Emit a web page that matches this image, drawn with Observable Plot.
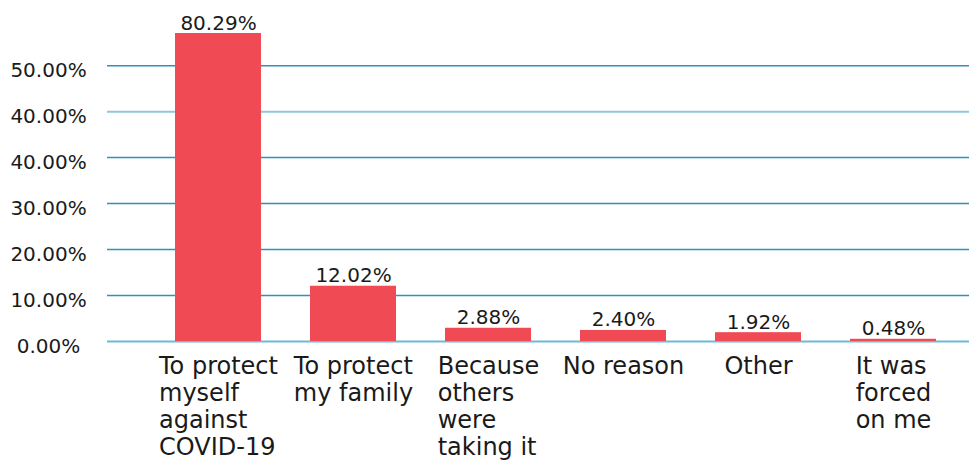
<!DOCTYPE html>
<html><head><meta charset="utf-8">
<script src="https://cdn.jsdelivr.net/npm/d3@7"></script>
<script src="https://cdn.jsdelivr.net/npm/@observablehq/plot@0.6"></script>
<style>body{margin:0;background:#fff}</style>
</head><body><div id="chart"></div>
<script>
const categories = ["To protect\nmyself\nagainst\nCOVID-19", "To protect\nmy family", "Because\nothers\nwere\ntaking it", "No reason", "Other", "It was\nforced\non me"];
const values = [80.29, 12.02, 2.88, 2.40, 1.92, 0.48];
const valueLabels = ["80.29%", "12.02%", "2.88%", "2.40%", "1.92%", "0.48%"];
const tickValues = [0, 10, 20, 30, 40, 50, 60];
const tickLabels = ["0.00%", "10.00%", "20.00%", "30.00%", "40.00%", "40.00%", "50.00%"];

const data = categories.map((c, i) => ({category: c, value: values[i], label: valueLabels[i]}));
const FONT = "'DejaVu Sans', sans-serif";
const ink = "#1a1a1a";

const ctx = document.createElement("canvas").getContext("2d");
ctx.font = "24px 'DejaVu Sans'";
const blockWidth = c => d3.max(c.split("\n"), l => ctx.measureText(l).width);

const categoryMarks = data.map(d => Plot.text([d], {
  x: "category", y: () => 0, text: "category",
  textAnchor: "start", lineAnchor: "top", dx: -blockWidth(d.category) / 2, dy: 13,
  fontSize: 24, lineHeight: 1.125, fill: ink
}));

const chart = Plot.plot({
  width: 969, height: 465,
  marginLeft: 107, marginRight: 0, marginTop: 33, marginBottom: 124,
  style: {fontFamily: FONT, fontSize: "20px", color: ink, background: "#fff"},
  x: {type: "band", domain: categories, range: [150, 962], paddingInner: 0.36, paddingOuter: 0.18, axis: null},
  y: {domain: [0, 67], clamp: true, axis: null},
  marks: [
    Plot.ruleY(tickValues.filter((d, i) => i !== 0 && i !== 5), {stroke: "#2e93b9", strokeWidth: 1.5}),
    Plot.ruleY([tickValues[5]], {stroke: "#8ec8da", strokeWidth: 2}),
    Plot.ruleY([tickValues[0]], {stroke: "#6cbad8", strokeWidth: 2}),
    Plot.axisY({ticks: tickValues, tickFormat: d => tickLabels[tickValues.indexOf(d)], label: null, tickSize: 0, tickPadding: 59, textAnchor: "middle", dy: 5, fontSize: 20, fill: ink}),
    Plot.barY(data, {x: "category", y: "value", fill: "#f04b55"}),
    Plot.text(data, {x: "category", y: "value", text: "label", lineAnchor: "bottom", dy: -4, fontSize: 20, fill: ink}),
    ...categoryMarks
  ]
});
document.getElementById("chart").appendChild(chart);
</script>
</body></html>
